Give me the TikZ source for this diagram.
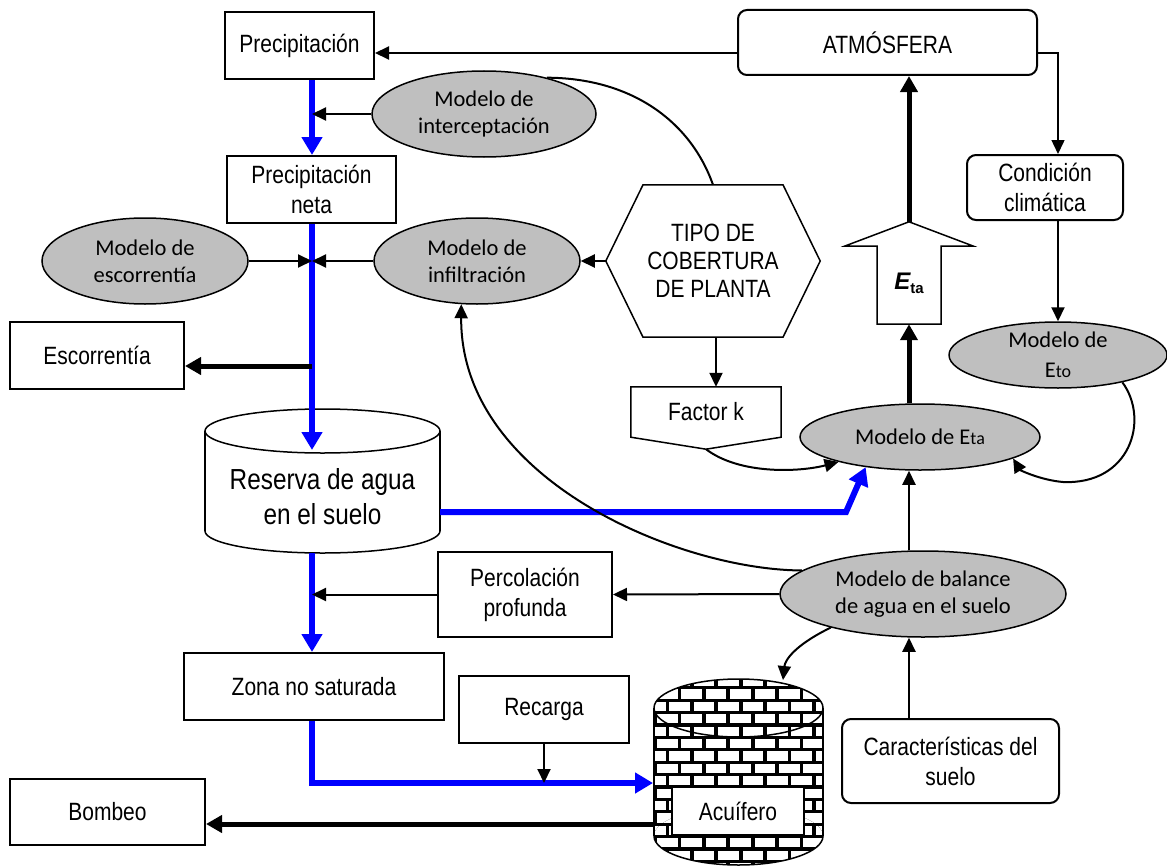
\documentclass[tikz,border=0pt]{standalone}
\usepackage{fontspec}
\setmainfont{Liberation Sans}
\newfontfamily\boxf[FakeStretch=0.84]{Liberation Sans}
\newfontfamily\ellf{Carlito}
\usetikzlibrary{arrows.meta,shapes.geometric,calc}
\definecolor{ellgray}{RGB}{191,191,191}
\definecolor{pureblue}{RGB}{0,0,255}
\newcommand\mybricks{%
 \fill[black] (650,675) rectangle (830,870);
 \foreach \r in {0,...,15}{%
   \foreach \c in {-1,...,8}{%
     \fill[white] ({645+mod(\r,2)*12+\c*24.4},{677+\r*12.4}) rectangle ++(20.5,9.2);
   }}}
\tikzset{
 box/.style={draw, line width=2pt, fill=white, font=\boxf\fontsize{25}{30}\selectfont, align=center, inner sep=0pt},
 rbox/.style={box, rounded corners=9pt},
 ell/.style={ellipse, draw, line width=1.5pt, fill=ellgray, font=\ellf\fontsize{22.5}{27}\selectfont, align=center, inner sep=0pt},
 thinarr/.style={line width=2pt, -{Triangle[length=14pt,width=13pt]}},
 thickarr/.style={line width=5pt, -{Triangle[length=16pt,width=17pt]}},
 bluearr/.style={line width=6pt, draw=pureblue, -{Triangle[length=18pt,width=20pt]}},
}
\begin{document}
\begin{tikzpicture}[x=1pt,y=-1pt]
\useasboundingbox (0,0) rectangle (1167,867);
\fill[white] (0,0) rectangle (1167,867);

% --- Reserva cylinder
\fill[white] (205,431) rectangle (440,531);
\fill[white] (322.5,531) ellipse [x radius=117.5pt, y radius=22pt];
\begin{scope}\clip (195,531) rectangle (450,562);
\draw[line width=1.5pt] (322.5,531) ellipse [x radius=117.5pt, y radius=22pt];
\end{scope}
\draw[line width=1.5pt] (205,431) -- (205,531) (440,431) -- (440,531);
\draw[line width=1.5pt, fill=white] (322.5,431) ellipse [x radius=117.5pt, y radius=22pt];
\node[font=\boxf\fontsize{29}{35}\selectfont, align=center, inner sep=0pt] (res) at (322.5,497) {Reserva de agua\\en el suelo};

% --- Acuifero cylinder with bricks
\begin{scope}\clip (654,708) rectangle (823,836); \mybricks \end{scope}
\begin{scope}\clip (738.5,708) ellipse [x radius=84.5pt, y radius=29pt]; \mybricks \end{scope}
\begin{scope}\clip (738.5,836) ellipse [x radius=84.5pt, y radius=29pt]; \mybricks \end{scope}
\draw[line width=1.5pt] (654,708) -- (654,836) (823,708) -- (823,836);
\draw[line width=1.5pt] (738.5,708) ellipse [x radius=84.5pt, y radius=29pt];
\begin{scope}\clip (640,836) rectangle (840,870);
\draw[line width=1.5pt] (738.5,836) ellipse [x radius=84.5pt, y radius=29pt];
\end{scope}

% --- nodes
\node[box, minimum width=149pt, minimum height=67pt] (prec) at (299.5,45.5) {Precipitación};
\node[rbox, minimum width=299pt, minimum height=65pt] (atm) at (887.5,42.5) {ATMÓSFERA};
\node[ell, minimum width=224pt, minimum height=86pt] (intc) at (484,114) {Modelo de\\interceptación};
\node[box, minimum width=169pt, minimum height=67pt] (neta) at (311.5,189.5) {Precipitación\\neta};
\node[ell, minimum width=206pt, minimum height=86pt] (escm) at (145,261) {Modelo de\\escorrentía};
\node[ell, minimum width=206pt, minimum height=86pt] (inf) at (477,261) {Modelo de\\infiltración};
\node[minimum width=214pt, minimum height=152pt, inner sep=0pt] (hex) at (713,261) {};
\draw[line width=1.5pt, fill=white] (hex.west) -- ([xshift=-70pt]hex.north) -- ([xshift=70pt]hex.north) -- (hex.east) -- ([xshift=70pt]hex.south) -- ([xshift=-70pt]hex.south) -- cycle;
\node[font=\boxf\fontsize{25}{28}\selectfont, align=center] (hextxt) at (hex.center) {TIPO DE\\COBERTURA\\DE PLANTA};
\node[box, minimum width=174pt, minimum height=67pt] (esc) at (97,355.5) {Escorrentía};
\node[rbox, minimum width=156pt, minimum height=65pt] (cond) at (1045,187.5) {Condición\\climática};
\node[ell, minimum width=218pt, minimum height=66pt, font=\ellf\fontsize{22.5}{30}\selectfont] (eto) at (1058,355) {Modelo de\\E{\fontsize{18}{18}\selectfont to}};
\node[minimum width=150pt, minimum height=50pt, inner sep=0pt] (fk) at (706,412) {};
\coordinate (fktip) at ([yshift=-12pt]fk.south);
\draw[line width=1.5pt, fill=white] (fk.north west) -- (fk.north east) -- (fk.south east) -- (fktip) -- (fk.south west) -- cycle;
\node[font=\boxf\fontsize{25}{30}\selectfont] (fktxt) at (fk.center) {Factor k};
\node[ell, minimum width=240pt, minimum height=66pt] (eta) at (920,437) {Modelo de E{\fontsize{18}{18}\selectfont ta}};
\node[minimum width=64pt, minimum height=102pt, inner sep=0pt] (ha) at (909,273) {};
\draw[line width=1.5pt, fill=white] (877,324) -- (877,246) -- (845,246) -- (ha.north) -- (973,246) -- (941,246) -- (941,324) -- cycle;
\node[font=\fontsize{24}{28}\selectfont\bfseries\itshape] (etalbl) at (909,283) {E\raisebox{-4pt}{\fontsize{15}{15}\selectfont\upshape ta}};
\node[box, minimum width=174pt, minimum height=85pt] (perc) at (525,594.5) {Percolación\\profunda};
\node[ell, minimum width=286pt, minimum height=86pt] (bal) at (923,594) {Modelo de balance\\de agua en el suelo};
\node[box, minimum width=260pt, minimum height=67pt] (zona) at (314,686.5) {Zona no saturada};
\node[box, minimum width=170pt, minimum height=67pt] (rec) at (544,709.5) {Recarga};
\node[box, minimum width=132pt, minimum height=48pt] (acu) at (738,811) {Acuífero};
\node[rbox, minimum width=217pt, minimum height=84pt] (car) at (950.5,761) {Características del\\suelo};
\node[box, minimum width=195pt, minimum height=66pt] (bom) at (107.5,812) {Bombeo};

% --- coordinates
\coordinate (bx) at (312,0);
\coordinate (resin) at (312,450);
\coordinate (escj) at (312,366);
\coordinate (resr) at (440,512);
\coordinate (resb) at (312,553);
\coordinate (acuin) at (653,783);
\coordinate (acuout) at (654,824);
\coordinate (acutop) at (783,680);
\coordinate (bend) at (846,512);

% --- blue flow
\draw[bluearr] (prec.south -| bx) -- (neta.north -| bx);
\draw[bluearr] (neta.south -| bx) -- (resin);
\draw[bluearr] (resb) -- (resb |- zona.north);
\draw[bluearr] (zona.south -| bx) |- (acuin);
\draw[bluearr] (resr) -- (bend) -- (eta.209);

% --- black connectors
\draw[thickarr] (escj) -- (escj -| esc.east);
\draw[thickarr] (acuout) -- (acuout -| bom.east);
\draw[thinarr] (intc.west) -- (intc.west -| bx);
\draw[thinarr] (escm.east) -- (escm.east -| bx);
\draw[thinarr] (inf.west) -- (inf.west -| bx);
\draw[thinarr] (perc.west) -- (perc.west -| bx);
\draw[thinarr] (rec.south) -- (rec.south |- acuin);
\draw[thinarr] (hex.west) -- (inf.east);
\draw[line width=2pt] (hex.north) .. controls (690,120) and (630,78) .. (intc.30);
\draw[thinarr] ([xshift=3pt]hex.south) -- ([xshift=3pt]hex.south |- fk.north);
\draw[thinarr] (fktip) .. controls (740,475) and (800,472) .. (eta.197);
\draw[thinarr] ([yshift=-10.5pt]atm.west) -- ([yshift=-10.5pt]atm.west -| prec.east);
\draw[thinarr, line width=1.5pt] ([yshift=-10.5pt]atm.east) -| ([xshift=13pt]cond.north);
\draw[thinarr] ([xshift=13pt]cond.south) -- (eto.north);
\draw[thinarr] (eto.-23) .. controls (1150,420) and (1130,485) .. (1063,482) .. controls (1040,480) and (1020,470) .. (eta.-13);
\draw[thickarr] (ha.south |- eta.north) -- (ha.south);
\draw[thickarr] (ha.north) -- (ha.north |- atm.south);
\draw[thinarr] (ha.south |- bal.north) -- (ha.south |- eta.south);
\draw[thinarr] (ha.south |- car.north) -- (ha.south |- bal.south);
\draw[thinarr] (bal.west) -- (perc.east);
\draw[thinarr] (bal.200) .. controls (795,645) and (785,660) .. (acutop);
\draw[thinarr] (bal.169) .. controls (680,570) and (460,480) .. (inf.250);
\end{tikzpicture}
\end{document}
